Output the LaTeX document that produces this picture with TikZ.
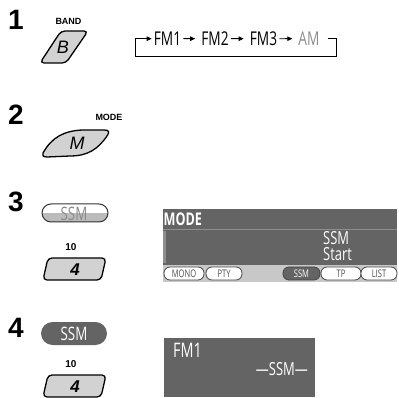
\documentclass[tikz,border=0pt]{standalone}
\usepackage{fontspec}
\setmainfont{Liberation Sans}
\newfontfamily\cond[FakeStretch=0.72]{Open Sans}
\usetikzlibrary{arrows.meta}
\definecolor{dgrey}{HTML}{646464}
\definecolor{btngrey}{HTML}{D2D2D2}
\definecolor{strip}{HTML}{C8C8C8}
\definecolor{sepgrey}{HTML}{8E8E8E}
\definecolor{pilldark}{HTML}{444444}
\definecolor{pilltext}{HTML}{505050}
\definecolor{amgrey}{HTML}{8C8C8C}
\definecolor{halfgrey}{HTML}{BBBBBB}
\tikzset{
  num/.style={inner sep=0pt, font=\fontsize{28}{28}\selectfont\bfseries},
  lbl/.style={inner sep=0pt, font=\fontsize{9}{9}\selectfont\bfseries},
  tenlbl/.style={inner sep=0pt, font=\fontsize{10}{10}\selectfont\bfseries},
  chain/.style={inner sep=1pt, font=\cond\fontsize{19}{19}\selectfont},
  arr/.style={-{Triangle[length=5pt,width=4.5pt]}, line width=0.9pt},
  btn/.style={draw=black, fill=btngrey, line width=1.3pt, rounded corners=4pt},
  curvebtn/.style={draw=black, fill=btngrey, line width=1.3pt},
  keylet/.style={inner sep=0pt, font=\fontsize{18}{18}\selectfont\itshape},
  keynum/.style={inner sep=0pt, font=\fontsize{17}{17}\selectfont\bfseries\itshape},
  disptxt/.style={inner sep=0pt, text=white, font=\cond\fontsize{18}{18}\selectfont},
  pill/.style={draw=pilldark, fill=white, line width=0.8pt, rounded corners=6pt,
    inner sep=0pt, minimum height=13pt, text=pilltext, font=\cond\fontsize{10.5}{10.5}\selectfont},
}
\begin{document}
\begin{tikzpicture}[x=1pt,y=-1pt]
\path[use as bounding box] (0,0) rectangle (399,398);

% ---------- step 1 ----------
\node[num, anchor=base west] (n1) at (8,30) {1};
\node[lbl, anchor=base] (band) at (68.5,25) {BAND};
\draw[btn] (61,31) -- (88,31) -- (66,63) -- (40,63) -- cycle;
\node[keylet] (bkey) at (63,47.5) {B};

\node[chain, anchor=base] (fm1) at (167.5,45.5) {FM1};
\node[chain, anchor=base] (fm2) at (215,45.5) {FM2};
\node[chain, anchor=base] (fm3) at (263.5,45.5) {FM3};
\node[chain, anchor=base, text=amgrey] (am) at (309,45.5) {AM};
\draw[arr, shorten <=1pt, shorten >=5pt] (fm1) -- (fm2);
\draw[arr, shorten <=1pt, shorten >=5pt] (fm2) -- (fm3);
\draw[arr, shorten <=1pt, shorten >=5pt] (fm3) -- (am);
\coordinate (brR) at (336,56);
\coordinate (brL) at (135,56);
\draw[arr, shorten >=1pt] ([xshift=7pt]am.east) -| (brR) -- (brL) |- (fm1.west);

% ---------- step 2 ----------
\node[num, anchor=base west] (n2) at (8,125) {2};
\node[lbl, anchor=base] (modelbl) at (109,121) {MODE};
\draw[curvebtn] (43,153) .. controls (52,137) and (64,131) .. (82,130) -- (104,130)
  .. controls (109,130) and (110,132) .. (107,136)
  .. controls (98,149) and (88,156) .. (70,156) -- (47,157)
  .. controls (43,157) and (42,155) .. (43,153) -- cycle;
\node[keylet] (mkey) at (77,143) {M};

% ---------- step 3 ----------
\node[num, anchor=base west] (n3) at (8,212) {3};
\begin{scope}
  \clip[rounded corners=9pt] (42,204) rectangle (108,222);
  \fill[white] (42,204) rectangle (108,213);
  \fill[halfgrey] (42,213) rectangle (108,222);
\end{scope}
\draw[rounded corners=9pt, line width=1pt, draw=black!80] (42,204) rectangle (108,222);
\node[disptxt, anchor=base, text=amgrey, font=\cond\fontsize{18.5}{18.5}\selectfont] (ssmA) at (74,220.5) {SSM};
\node[tenlbl, anchor=base] (ten3) at (71,250.5) {10};
\draw[btn] (48,258) -- (106,258) -- (101,280) -- (43,280) -- cycle;
\node[keynum] (k3) at (75,270) {4};

% display 3
\fill[dgrey] (163,209) rectangle (397,265);
\fill[strip] (163,265) rectangle (397,282);
\draw[sepgrey, line width=1pt] (163,229.5) -- (397,229.5);
\fill[sepgrey] (163,231) rectangle (166,263);
\node[disptxt, anchor=base west, font=\cond\bfseries\fontsize{17.5}{17.5}\selectfont] (modeT) at (163.5,225.5) {MODE};
\node[disptxt, anchor=base west] (ssmT) at (323,244.5) {SSM};
\node[disptxt, anchor=base west] (startT) at (323,260.5) {Start};
\node[pill, minimum width=40pt] (mono) at (184,273.5) {MONO};
\node[pill, minimum width=36pt] (pty) at (224,273.5) {PTY};
\node[pill, minimum width=37pt, fill=dgrey, text=white] (ssmP) at (301.5,273.5) {SSM};
\node[pill, minimum width=40pt] (tp) at (341,273.5) {TP};
\node[pill, minimum width=36pt] (list) at (379,273.5) {LIST};

% ---------- step 4 ----------
\node[num, anchor=base west] (n4) at (8,337) {4};
\node[fill=dgrey, rounded corners=11.5pt, minimum width=66pt, minimum height=23pt,
  inner sep=0pt, text=white, font=\cond\fontsize{18.5}{18.5}\selectfont] (ssmB) at (74,333.5) {SSM};
\node[tenlbl, anchor=base] (ten4) at (71,367.5) {10};
\draw[btn] (48,375) -- (106,375) -- (101,397) -- (43,397) -- cycle;
\node[keynum] (k4) at (75,387) {4};

% display 4
\fill[dgrey] (164,338) rectangle (315,397);
\node[disptxt, anchor=base west, font=\cond\fontsize{20}{20}\selectfont] (fmD) at (173,357.5) {FM1};
\node[disptxt, anchor=base east] (ssmD) at (308,375) {—SSM—};
\end{tikzpicture}
\end{document}
